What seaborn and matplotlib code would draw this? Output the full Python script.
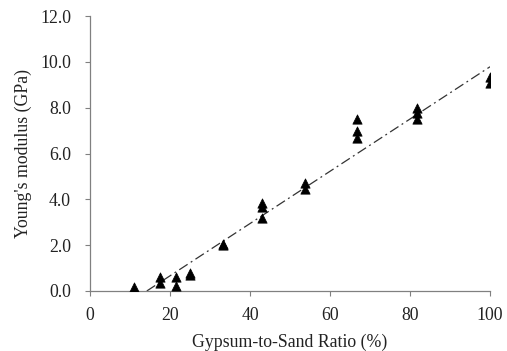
import numpy as np
import pandas as pd
import matplotlib
matplotlib.use("Agg")
import matplotlib.pyplot as plt
import seaborn as sns

ratio = [11.1, 11.1, 17.6, 17.6, 21.4, 21.4, 25.0, 25.0, 33.3, 33.3,
         42.9, 42.9, 42.9, 53.8, 53.8, 66.7, 66.7, 66.7, 81.8, 81.8, 81.8,
         100.0, 100.0]
modulus = [0.05, 0.19, 0.36, 0.62, 0.22, 0.60, 0.68, 0.80, 2.0, 2.06,
           3.17, 3.65, 3.83, 4.44, 4.72, 6.66, 7.0, 7.5, 7.5, 7.75, 8.0,
           9.06, 9.35]
trend_x = [14.2, 100.0]
trend_y = [0.0, 9.79]
xticks = [0, 20, 40, 60, 80, 100]
yticks = [0, 2, 4, 6, 8, 10, 12]

sns.set_theme(style="ticks")
plt.rcParams['font.family'] = ['Liberation Serif', 'DejaVu Serif']

df = pd.DataFrame({"ratio": ratio, "modulus": modulus})
trend = pd.DataFrame({"x": trend_x, "y": trend_y})

fig = plt.figure(figsize=(5.07, 3.51), dpi=100)
ax = fig.add_axes([0.1775, 0.171, 0.789, 0.783])

sns.lineplot(data=trend, x="x", y="y", ax=ax, color="#333333", lw=0.9,
             linestyle=(0, (8, 3, 1.5, 3)))
sns.scatterplot(data=df, x="ratio", y="modulus", ax=ax, marker="^",
                color="black", s=45, edgecolor="black", linewidth=0.5, zorder=3)

fs = 12.8
ax.set_xlim(0, 100)
ax.set_ylim(0, 12)
ax.set_xticks(xticks)
ax.set_yticks(yticks)
ax.set_yticklabels([f"{v:.1f}" for v in yticks])
ax.set_xlabel("Gypsum-to-Sand Ratio (%)", fontsize=fs, color="#222222", labelpad=7.3)
ax.set_ylabel("Young's modulus (GPa)", fontsize=fs, color="#222222", labelpad=6)
ax.tick_params(labelsize=fs, labelcolor="#222222", color="#808080",
               length=3.3, width=0.8)
ax.tick_params(axis="x", pad=8.2)
ax.tick_params(axis="y", pad=10.4)
for s in ["top", "right"]:
    ax.spines[s].set_visible(False)
for s in ["left", "bottom"]:
    ax.spines[s].set_color("#808080")
    ax.spines[s].set_linewidth(0.9)

fig.savefig("out.png", dpi=100)
